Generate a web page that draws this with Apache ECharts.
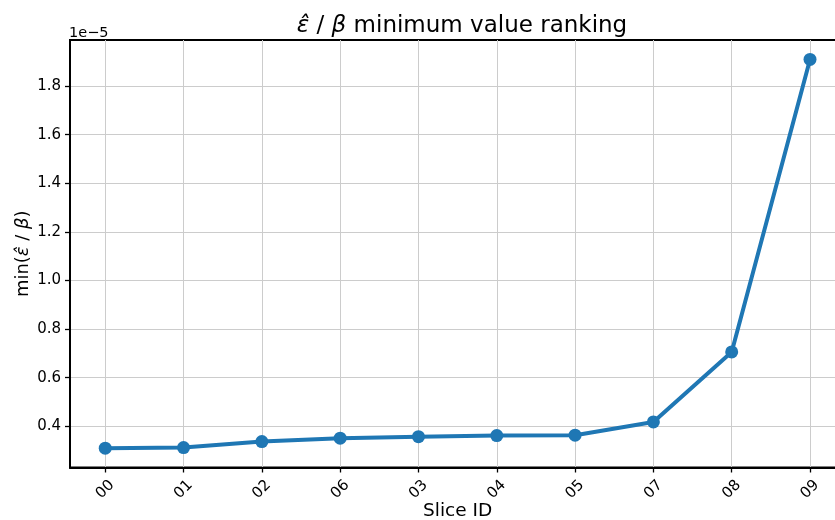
<!DOCTYPE html>
<html>
<head>
<meta charset="utf-8">
<script src="https://cdn.jsdelivr.net/npm/echarts@6/dist/echarts.min.js"></script>
<style>
html,body{margin:0;padding:0;background:#fff;}
#c{width:835px;height:520px;}
</style>
</head>
<body>
<div id="c"></div>
<script>
// ---- data ----
const sliceIds = ['00', '01', '02', '06', '03', '04', '05', '07', '08', '09'];
const minValues = [3.095e-6, 3.12e-6, 3.366e-6, 3.506e-6, 3.57e-6, 3.613e-6, 3.63e-6, 4.177e-6, 7.057e-6, 1.910e-5];
const yTicks = [0.4, 0.6, 0.8, 1.0, 1.2, 1.4, 1.6, 1.8];
const exponentLabel = '1e\u22125';
const SCALE = 1e-5;

const FONT = 'DejaVu Sans';
const chart = echarts.init(document.getElementById('c'), null, {renderer: 'canvas'});
const seriesData = minValues.map((v, i) => [i, v / SCALE]);
const xIdx = sliceIds.map((s, i) => i);

chart.setOption({
  animation: false,
  backgroundColor: '#fff',
  textStyle: {fontFamily: FONT},
  title: {
    text: '{it|\u03B5\u0302} / {it|\u03B2} minimum value ranking',
    left: 457, top: 10, textAlign: 'center',
    textStyle: {
      fontFamily: FONT, fontSize: 23, fontWeight: 'normal', color: '#000',
      rich: {it: {fontFamily: FONT, fontSize: 23, fontStyle: 'italic', color: '#000'}}
    }
  },
  graphic: [{
    type: 'text', left: 69, top: 26,
    style: {text: exponentLabel, font: '14.5px "DejaVu Sans"', fill: '#000'}
  }],
  grid: {
    left: 70, top: 40, right: -10.25, bottom: 52.5,
    outerBoundsMode: 'none', containLabel: false,
    show: true, borderColor: '#000', borderWidth: 2, backgroundColor: 'transparent'
  },
  xAxis: {
    type: 'value', min: -0.45, max: 9.45,
    name: 'Slice ID', nameLocation: 'middle', nameGap: 34, nameMoveOverlap: false,
    nameTextStyle: {fontFamily: FONT, fontSize: 18.5, color: '#000'},
    axisLine: {show: true, onZero: false, lineStyle: {color: '#000', width: 2}},
    axisTick: {show: true, length: 5, customValues: xIdx, lineStyle: {color: '#000', width: 1.3}},
    axisLabel: {
      customValues: xIdx, rotate: 45, align: 'center', verticalAlign: 'middle', margin: 22,
      fontFamily: FONT, fontSize: 15, color: '#000',
      formatter: v => sliceIds[Math.round(v)]
    },
    splitLine: {show: true, lineStyle: {color: '#cccccc', width: 1}}
  },
  yAxis: {
    type: 'value', min: 0.23, max: 1.99,
    name: 'min({it|\u03B5\u0302} / {it|\u03B2})', nameLocation: 'middle', nameGap: 38, nameRotate: 90, nameMoveOverlap: false,
    nameTextStyle: {
      fontFamily: FONT, fontSize: 18, color: '#000',
      rich: {it: {fontFamily: FONT, fontSize: 18, fontStyle: 'italic', color: '#000'}}
    },
    axisLine: {show: true, onZero: false, lineStyle: {color: '#000', width: 2}},
    axisTick: {show: true, length: 5, customValues: yTicks, lineStyle: {color: '#000', width: 1.3}},
    axisLabel: {
      customValues: yTicks, margin: 9, fontFamily: FONT, fontSize: 15, color: '#000',
      formatter: v => v.toFixed(1)
    },
    splitLine: {show: true, lineStyle: {color: '#cccccc', width: 1}}
  },
  series: [{
    type: 'line', data: seriesData,
    lineStyle: {color: '#1f77b4', width: 4},
    itemStyle: {color: '#1f77b4'},
    symbol: 'circle', symbolSize: 13, showSymbol: true,
    z: 5
  }]
});
</script>
</body>
</html>
